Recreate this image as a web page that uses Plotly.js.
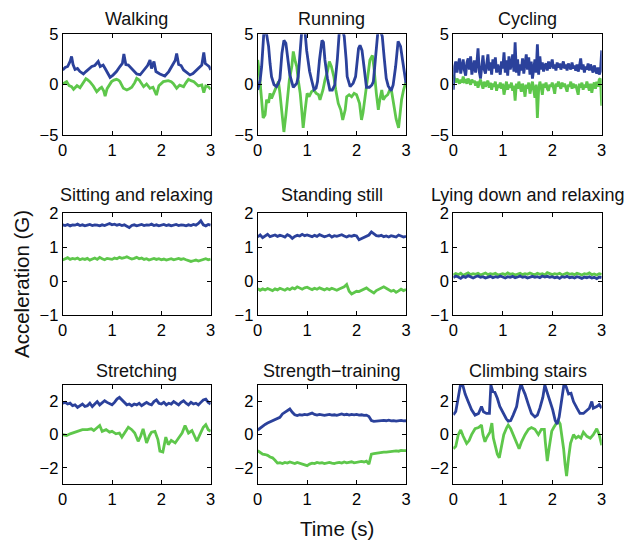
<!DOCTYPE html>
<html>
<head>
<meta charset="utf-8">
<script src="https://cdn.plot.ly/plotly-3.0.1.min.js"></script>
<style>html,body{margin:0;padding:0;background:#fff;}#chart{width:628px;height:540px;}</style>
</head>
<body>
<div id="chart"></div>
<script>
// ---------- DATA ----------
const panelTitles = ['Walking','Running','Cycling','Sitting and relaxing','Standing still','Lying down and relaxing','Stretching','Strength\u2212training','Climbing stairs'];
const xTicks = [0,1,2,3];
const row1Ticks = [-5,0,5];
const row2Ticks = [-1,0,1,2];
const row3Ticks = [-2,0,2];
const row1Range = [-5,5];
const row2Range = [-1,2];
const row3Range = [-3,3];

// Walking
const walkingBlueT = [0,0.05,0.1,0.15,0.18,0.21,0.25,0.3,0.35,0.42,0.47,0.52,0.59,0.65,0.72,0.76,0.82,0.86,0.9,0.96,1.02,1.09,1.16,1.21,1.24,1.28,1.33,1.4,1.5,1.57,1.67,1.72,1.77,1.8,1.85,1.89,1.97,2.07,2.15,2.24,2.28,2.31,2.35,2.4,2.45,2.52,2.58,2.64,2.72,2.82,2.86,2.89,2.93,2.97,3.0];
const walkingBlue = [1.46,1.7,1.8,2.3,2.8,2.0,1.5,1.6,1.3,1.06,1.3,1.5,1.8,1.9,2.3,1.8,1.95,1.6,1.2,0.73,0.95,1.3,1.8,2.1,3.05,2.0,1.95,1.6,1.06,0.98,1.6,1.9,2.45,1.6,2.3,1.3,1.06,0.86,1.3,2.1,2.4,3.1,2.0,1.9,1.46,1.2,0.96,1.1,1.46,1.95,3.2,2.1,1.95,1.8,1.46];
const walkingGreenT = [0,0.04,0.08,0.13,0.18,0.22,0.26,0.29,0.35,0.42,0.47,0.5,0.55,0.62,0.69,0.75,0.79,0.83,0.86,0.9,0.99,1.04,1.09,1.13,1.16,1.23,1.3,1.35,1.4,1.46,1.5,1.55,1.64,1.7,1.77,1.83,1.9,1.95,2.04,2.14,2.2,2.24,2.31,2.37,2.45,2.5,2.55,2.6,2.66,2.75,2.82,2.86,2.9,2.95,3.0];
const walkingGreen = [0.07,0.2,0.3,-0.1,-0.2,-0.46,-0.25,-0.1,-0.3,0.2,0.6,0.5,0.3,-0.13,-0.7,-0.4,-0.26,-0.6,-1.13,-0.4,0.3,0.45,0.53,0.45,0.3,-0.36,-0.53,-0.4,-0.26,0.2,0.63,0.46,-0.2,0.07,-0.36,-0.26,-1.03,-0.1,0.3,0.4,0.3,0.13,-0.36,-0.05,-0.2,0.2,0.53,0.4,0.3,-0.13,-0.03,-0.8,-0.13,-0.2,-0.46];

// Running
const runningBlueT = [0,0.05,0.08,0.11,0.13,0.17,0.22,0.25,0.28,0.33,0.38,0.42,0.45,0.49,0.53,0.57,0.62,0.65,0.72,0.79,0.82,0.86,0.89,0.94,0.96,0.99,1.05,1.09,1.14,1.18,1.21,1.25,1.3,1.33,1.36,1.41,1.46,1.51,1.56,1.61,1.65,1.71,1.75,1.79,1.81,1.87,1.93,1.98,2.04,2.07,2.11,2.15,2.2,2.26,2.31,2.34,2.39,2.43,2.47,2.52,2.56,2.6,2.64,2.7,2.74,2.79,2.84,2.89,2.93,2.97,3.0];
const runningBlue = [-0.53,0.46,1.8,5.2,5.6,5.3,3.8,2.1,0.8,0.0,-0.2,0.13,0.6,3.1,4.4,4.1,2.3,0.96,-0.26,0.13,0.8,3.8,5.3,5.5,5.1,3.4,1.3,0.46,-0.5,-0.36,0.3,2.45,4.4,4.2,2.45,0.63,-0.53,-0.53,-0.03,2.45,5.2,5.5,4.8,2.45,0.8,-0.2,0.13,0.8,3.6,3.9,3.4,1.8,-0.26,-0.26,-0.03,0.3,3.1,5.2,5.5,4.8,2.6,0.63,-0.13,-0.6,-0.03,1.8,4.3,3.8,2.45,0.96,0.13];
const runningGreenT = [0,0.03,0.07,0.11,0.15,0.18,0.22,0.25,0.28,0.32,0.35,0.38,0.42,0.45,0.49,0.53,0.57,0.6,0.64,0.69,0.72,0.76,0.79,0.82,0.86,0.89,0.92,0.96,1.0,1.04,1.09,1.14,1.18,1.23,1.26,1.32,1.36,1.41,1.45,1.49,1.54,1.58,1.63,1.68,1.72,1.77,1.8,1.85,1.9,1.95,2.0,2.06,2.1,2.13,2.17,2.22,2.27,2.32,2.35,2.4,2.44,2.47,2.51,2.54,2.58,2.63,2.67,2.71,2.76,2.8,2.85,2.88,2.91,2.95,3.0];
const runningGreen = [2.45,1.3,-1.0,-3.3,-3.0,-1.5,-1.8,-0.86,-1.36,-0.86,-0.53,-0.03,0.3,-0.86,-2.5,-4.7,-3.0,-1.2,0.46,1.8,3.3,2.3,1.8,0.46,-0.86,-2.5,-4.3,-2.5,-0.86,-1.2,-0.7,-0.53,-0.86,-1.0,-1.5,-0.53,0.46,1.3,2.3,1.8,0.8,-0.53,-1.86,-2.5,-3.5,-2.5,-1.2,-1.0,-1.2,-0.86,-1.0,-1.86,-3.5,-2.8,-1.2,0.8,2.45,2.9,1.8,-0.86,-2.5,-1.5,-0.53,-1.5,-1.2,-1.0,-0.53,-0.7,-2.2,-3.4,-4.3,-2.9,-1.5,-0.53,0.3];

// Cycling (evenly sampled over 0-3 s)
const cyclingBlue = [-0.5,1.8,2.3,1.2,2.0,2.6,1.1,1.9,2.5,1.4,
 0.9,2.2,2.6,1.5,2.8,1.0,1.7,2.4,1.2,2.1,
 3.6,1.3,0.6,2.2,2.9,1.5,1.1,2.0,3.0,1.4,
 2.2,1.0,2.5,1.6,2.7,1.2,2.0,1.5,1.0,2.3,
 1.6,3.2,1.2,2.4,0.9,2.8,1.5,2.0,3.0,1.3,
 4.2,1.2,2.5,0.9,2.0,1.4,2.6,1.1,2.2,3.0,
 1.5,2.7,1.0,2.3,0.6,1.9,2.5,1.2,4.0,1.0,
 2.8,1.5,2.2,1.3,1.9,2.1,1.4,2.3,1.6,2.0,
 2.5,1.6,2.0,1.4,2.2,1.7,2.1,1.5,1.9,2.3,
 1.6,2.0,1.4,2.1,1.8,1.5,2.2,1.6,1.9,1.4,
 2.0,1.3,1.8,2.6,1.5,2.0,1.2,1.8,1.5,2.1,
 1.4,2.0,1.6,1.2,1.9,1.5,1.1,1.7,1.0,1.3,
 3.4];
const cyclingGreen = [1.0,0.5,0.2,0.6,0.3,0.1,0.5,0.2,0.8,0.3,
 0.4,0.1,0.6,0.3,0.0,0.5,0.2,0.4,-0.1,0.3,
 -0.3,0.2,0.5,0.0,-0.4,0.3,-0.2,0.1,0.4,-0.3,
 0.2,-0.5,0.1,-0.2,0.3,-0.6,0.0,-0.3,0.2,-0.4,
 0.1,-1.0,-0.2,0.3,-0.5,0.0,-0.3,0.2,-0.6,-0.1,
 -1.6,0.1,-0.4,0.3,-0.2,-0.7,0.1,-0.3,-1.2,0.0,
 -0.4,0.2,-0.9,-0.1,0.3,-0.5,-1.3,0.0,-3.3,-0.5,
 0.3,-0.2,-1.0,0.1,-0.3,0.2,-0.4,-0.6,0.0,-0.2,
 0.2,-0.3,-0.9,0.1,-0.2,0.3,-0.1,-0.4,0.2,-0.2,
 0.1,-0.3,-0.7,0.0,-0.2,0.3,-0.4,0.1,-0.3,0.0,
 -0.4,-1.0,0.1,-0.3,0.2,-0.5,0.0,-0.3,0.3,-0.2,
 -0.6,0.1,-0.8,-0.1,0.2,-0.4,0.3,-0.2,0.5,0.6,
 -2.1];

// Sitting and relaxing (evenly sampled)
const sittingBlue = [1.66,1.64,1.67,1.63,1.66,1.65,1.68,1.64,1.66,1.63,1.65,1.67,1.64,1.66,1.65,1.63,1.66,1.64,1.67,1.70,1.66,1.68,1.65,1.67,1.64,1.66,1.62,1.58,1.64,1.66,1.63,1.65,1.67,1.64,1.66,1.65,1.68,1.64,1.66,1.63,1.65,1.67,1.64,1.66,1.63,1.65,1.67,1.64,1.66,1.65,1.63,1.66,1.64,1.67,1.65,1.70,1.78,1.66,1.63,1.67,1.65];
const sittingGreen = [0.62,0.66,0.69,0.64,0.67,0.65,0.68,0.63,0.66,0.64,0.67,0.62,0.66,0.68,0.64,0.70,0.66,0.63,0.67,0.65,0.64,0.68,0.66,0.70,0.67,0.69,0.72,0.68,0.65,0.67,0.70,0.66,0.68,0.64,0.66,0.62,0.65,0.67,0.64,0.66,0.63,0.65,0.62,0.64,0.66,0.63,0.65,0.67,0.64,0.66,0.63,0.61,0.58,0.60,0.62,0.59,0.61,0.64,0.66,0.63,0.65];

// Standing still (evenly sampled)
const standingBlue = [1.30,1.36,1.28,1.33,1.38,1.31,1.34,1.36,1.32,1.35,1.33,1.30,1.37,1.33,1.26,1.32,1.35,1.33,1.38,1.34,1.36,1.33,1.31,1.35,1.32,1.37,1.34,1.31,1.33,1.36,1.30,1.34,1.32,1.35,1.37,1.33,1.30,1.34,1.32,1.35,1.33,1.22,1.25,1.28,1.32,1.36,1.45,1.40,1.34,1.33,1.35,1.31,1.33,1.30,1.34,1.32,1.30,1.36,1.33,1.30,1.32];
const standingGreen = [-0.22,-0.27,-0.23,-0.26,-0.22,-0.25,-0.28,-0.23,-0.26,-0.21,-0.24,-0.27,-0.22,-0.25,-0.20,-0.23,-0.17,-0.21,-0.24,-0.20,-0.18,-0.22,-0.25,-0.21,-0.24,-0.20,-0.23,-0.26,-0.22,-0.25,-0.21,-0.24,-0.27,-0.23,-0.19,-0.17,-0.10,-0.30,-0.38,-0.35,-0.30,-0.31,-0.27,-0.22,-0.20,-0.26,-0.30,-0.35,-0.28,-0.24,-0.20,-0.17,-0.21,-0.26,-0.30,-0.27,-0.33,-0.29,-0.24,-0.28,-0.25];

// Lying down and relaxing (evenly sampled)
const lyingBlue = [0.10,0.15,0.12,0.08,0.14,0.11,0.16,0.12,0.09,0.13,0.15,0.11,0.13,0.09,0.12,0.14,0.10,0.13,0.11,0.15,0.12,0.09,0.13,0.11,0.14,0.10,0.12,0.15,0.11,0.13,0.09,0.12,0.14,0.11,0.13,0.10,0.15,0.12,0.14,0.11,0.13,0.10,0.12,0.08,0.13,0.11,0.14,0.10,0.12,0.09,0.13,0.11,0.08,0.12,0.10,0.13,0.09,0.11,0.07,0.12,0.10];
const lyingGreen = [0.18,0.22,0.19,0.23,0.17,0.21,0.24,0.19,0.22,0.20,0.23,0.18,0.21,0.24,0.19,0.22,0.20,0.23,0.18,0.21,0.22,0.19,0.24,0.20,0.22,0.18,0.21,0.23,0.19,0.22,0.20,0.24,0.21,0.19,0.23,0.20,0.22,0.18,0.25,0.21,0.19,0.22,0.20,0.23,0.18,0.21,0.24,0.20,0.22,0.19,0.23,0.21,0.18,0.22,0.20,0.24,0.19,0.21,0.18,0.22,0.20];

// Stretching
const stretchingBlue = [1.9,1.95,1.85,1.9,1.75,1.8,1.65,1.75,1.85,1.7,1.75,1.9,1.7,1.85,2.0,1.8,1.9,2.05,1.95,1.85,1.8,1.95,2.15,2.25,2.1,1.9,1.8,1.85,1.75,1.85,1.8,1.9,1.75,1.85,1.95,1.85,1.8,2.0,2.1,1.9,1.85,1.95,1.8,1.9,1.85,2.0,1.9,1.8,1.95,2.05,1.9,1.8,1.95,1.85,1.9,1.8,1.95,2.1,2.15,1.95,1.85];
const stretchingGreenT = [0,0.08,0.15,0.25,0.32,0.4,0.5,0.58,0.63,0.7,0.75,0.8,0.88,0.95,1.0,1.08,1.15,1.2,1.27,1.33,1.4,1.46,1.53,1.58,1.63,1.7,1.76,1.8,1.87,1.93,1.97,2.03,2.09,2.14,2.2,2.28,2.35,2.42,2.48,2.55,2.62,2.67,2.72,2.78,2.85,2.9,2.95,3.0];
const stretchingGreen = [0.0,-0.05,0.05,0.15,0.2,0.3,0.3,0.35,0.25,0.4,0.55,0.2,0.3,0.15,0.2,0.05,0.1,-0.15,0.2,0.45,0.3,0.1,-0.4,-0.1,0.35,-0.5,-0.05,0.15,0.2,-0.3,-1.0,-1.05,-0.15,-0.6,-0.35,-0.5,-0.2,0.1,0.55,0.1,0.25,-0.1,-0.4,0.0,0.45,0.6,0.3,0.2];

// Strength-training (evenly sampled)
const strengthBlue = [0.28,0.4,0.55,0.62,0.7,0.78,0.85,0.9,1.0,1.05,1.25,1.35,1.45,1.55,1.35,1.2,1.15,1.2,1.18,1.22,1.2,1.25,1.3,1.22,1.18,1.22,1.2,1.17,1.2,1.22,1.18,1.2,1.17,1.22,1.25,1.2,1.23,1.18,1.22,1.2,1.22,1.18,1.2,1.16,1.18,1.1,0.85,0.8,0.82,0.85,0.83,0.86,0.84,0.87,0.83,0.85,0.82,0.84,0.86,0.83,0.84];
const strengthGreen = [-0.97,-1.1,-1.18,-1.2,-1.25,-1.35,-1.4,-1.55,-1.72,-1.7,-1.75,-1.68,-1.72,-1.65,-1.7,-1.75,-1.68,-1.72,-1.78,-1.8,-1.87,-1.78,-1.72,-1.75,-1.68,-1.72,-1.7,-1.75,-1.72,-1.68,-1.72,-1.75,-1.7,-1.68,-1.72,-1.65,-1.7,-1.68,-1.64,-1.7,-1.68,-1.65,-1.62,-1.65,-1.6,-1.78,-1.18,-1.15,-1.12,-1.1,-1.08,-1.05,-1.05,-1.03,-1.02,-1.0,-0.98,-1.0,-0.95,-0.97,-0.97];

// Climbing stairs
const climbingBlueT = [0,0.05,0.1,0.15,0.19,0.24,0.3,0.37,0.44,0.51,0.57,0.61,0.67,0.73,0.76,0.8,0.84,0.89,0.94,1.01,1.07,1.11,1.16,1.21,1.28,1.33,1.37,1.4,1.45,1.52,1.58,1.65,1.7,1.75,1.81,1.85,1.9,1.96,2.01,2.06,2.1,2.14,2.19,2.24,2.28,2.33,2.38,2.43,2.5,2.56,2.63,2.7,2.75,2.8,2.83,2.9,2.95,3.0];
const climbingBlue = [1.2,1.4,2.25,3.1,3.0,2.45,2.0,1.5,1.18,1.28,1.7,1.38,1.28,1.28,3.0,2.6,2.56,2.2,1.7,1.28,0.96,0.81,0.85,1.18,1.7,2.6,3.1,2.8,2.45,1.8,1.28,1.07,1.18,1.6,2.25,3.0,2.56,2.0,1.5,0.85,0.64,1.07,2.0,3.1,2.9,2.45,2.5,2.0,1.6,1.28,1.28,1.5,1.6,2.0,1.6,1.7,1.82,1.6];
const climbingGreenT = [0,0.05,0.1,0.15,0.2,0.27,0.32,0.37,0.44,0.51,0.57,0.6,0.64,0.67,0.74,0.78,0.81,0.84,0.89,0.93,0.98,1.02,1.08,1.11,1.16,1.21,1.28,1.33,1.38,1.45,1.52,1.58,1.65,1.72,1.78,1.84,1.86,1.9,1.94,1.99,2.03,2.07,2.12,2.16,2.2,2.23,2.26,2.29,2.33,2.37,2.43,2.48,2.53,2.58,2.63,2.7,2.77,2.83,2.9,2.95,3.0];
const climbingGreen = [-0.85,-0.7,0.0,0.28,-0.1,-0.53,-0.36,0.0,0.36,0.43,0.58,0.0,-0.43,-0.21,0.15,0.7,-0.21,-0.53,-1.18,-1.4,-0.53,0.0,0.43,0.58,0.36,0.0,-0.53,-0.85,-0.43,0.0,0.32,0.43,0.32,0.0,0.32,0.32,-0.43,-1.6,-0.75,0.21,0.43,0.64,0.85,0.64,-0.1,-0.85,-1.8,-2.5,-1.4,-0.53,0.0,-0.21,-0.1,-0.21,0.15,-0.1,-0.21,0.0,0.36,0.0,-0.64];

// ---------- BUILD ----------
function evenTime(n){ const t=[]; for(let i=0;i<n;i++){ t.push(3*i/(n-1)); } return t; }

const panels = [
  {gx: walkingGreenT, gy: walkingGreen, bx: walkingBlueT, by: walkingBlue, range: row1Range, ticks: row1Ticks},
  {gx: runningGreenT, gy: runningGreen, bx: runningBlueT, by: runningBlue, range: row1Range, ticks: row1Ticks},
  {gx: evenTime(cyclingGreen.length), gy: cyclingGreen, bx: evenTime(cyclingBlue.length), by: cyclingBlue, range: row1Range, ticks: row1Ticks},
  {gx: evenTime(sittingGreen.length), gy: sittingGreen, bx: evenTime(sittingBlue.length), by: sittingBlue, range: row2Range, ticks: row2Ticks},
  {gx: evenTime(standingGreen.length), gy: standingGreen, bx: evenTime(standingBlue.length), by: standingBlue, range: row2Range, ticks: row2Ticks},
  {gx: evenTime(lyingGreen.length), gy: lyingGreen, bx: evenTime(lyingBlue.length), by: lyingBlue, range: row2Range, ticks: row2Ticks},
  {gx: stretchingGreenT, gy: stretchingGreen, bx: evenTime(stretchingBlue.length), by: stretchingBlue, range: row3Range, ticks: row3Ticks},
  {gx: evenTime(strengthGreen.length), gy: strengthGreen, bx: evenTime(strengthBlue.length), by: strengthBlue, range: row3Range, ticks: row3Ticks},
  {gx: climbingGreenT, gy: climbingGreen, bx: climbingBlueT, by: climbingBlue, range: row3Range, ticks: row3Ticks}
];

const W = 628, H = 540;
const colLeft = [62.7, 257.7, 453.3];
const colRight = [210.7, 406, 601.7];
const rowTop = [34.3, 213.3, 385];
const rowBottom = [135, 315, 484.3];
const titleShift = [3, 6, 2];
const BLUE = '#2b419b';
const GREEN = '#5ec74b';
const FONT = 'Liberation Sans, Arial, Helvetica, sans-serif';

const traces = [];
const layout = {
  width: W, height: H,
  margin: {l:0, r:0, t:0, b:0},
  paper_bgcolor: '#ffffff', plot_bgcolor: '#ffffff',
  showlegend: false,
  font: {family: FONT, color: '#000', size: 16},
  annotations: []
};

panels.forEach((p, i) => {
  const r = Math.floor(i/3), c = i % 3;
  const n = i === 0 ? '' : String(i+1);
  const xa = 'x' + n, ya = 'y' + n;
  traces.push({x: p.gx, y: p.gy, xaxis: xa, yaxis: ya, type: 'scatter', mode: 'lines',
    line: {color: GREEN, width: 2.8}, hoverinfo: 'skip'});
  traces.push({x: p.bx, y: p.by, xaxis: xa, yaxis: ya, type: 'scatter', mode: 'lines',
    line: {color: BLUE, width: 2.8}, hoverinfo: 'skip'});
  const xd = [colLeft[c]/W, colRight[c]/W];
  const yd = [1 - rowBottom[r]/H, 1 - rowTop[r]/H];
  layout['xaxis' + n] = {
    domain: xd, anchor: ya, range: [0,3], tickvals: xTicks, ticktext: xTicks.map(String),
    showgrid: false, zeroline: false, showline: true, linecolor: '#000', linewidth: 1,
    mirror: 'ticks', ticks: 'inside', ticklen: 4, tickcolor: '#000',
    tickfont: {family: FONT, size: 16.5, color: '#000'}, fixedrange: true
  };
  layout['yaxis' + n] = {
    domain: yd, anchor: xa, range: p.range, tickvals: p.ticks,
    ticktext: p.ticks.map(v => v < 0 ? '\u2212' + Math.abs(v) : String(v)),
    showgrid: false, zeroline: false, showline: true, linecolor: '#000', linewidth: 1,
    mirror: 'ticks', ticks: 'inside', ticklen: 4, tickcolor: '#000',
    tickfont: {family: FONT, size: 16.5, color: '#000'}, fixedrange: true
  };
  layout.annotations.push({
    text: panelTitles[i], xref: 'paper', yref: 'paper',
    x: (xd[0] + xd[1]) / 2, y: yd[1], xanchor: 'center', yanchor: 'bottom', yshift: titleShift[r],
    showarrow: false, font: {family: FONT, size: 18, color: '#111'}
  });
});

layout.annotations.push({
  text: 'Acceleration (G)', xref: 'paper', yref: 'paper', x: 21/W, y: 1 - 284/H,
  xanchor: 'center', yanchor: 'middle', textangle: -90, showarrow: false,
  font: {family: FONT, size: 20.5, color: '#111'}
});
layout.annotations.push({
  text: 'Time (s)', xref: 'paper', yref: 'paper', x: 337/W, y: 1 - 528/H,
  xanchor: 'center', yanchor: 'middle', showarrow: false,
  font: {family: FONT, size: 20.5, color: '#111'}
});

Plotly.newPlot('chart', traces, layout, {staticPlot: true, displayModeBar: false});
</script>
</body>
</html>
